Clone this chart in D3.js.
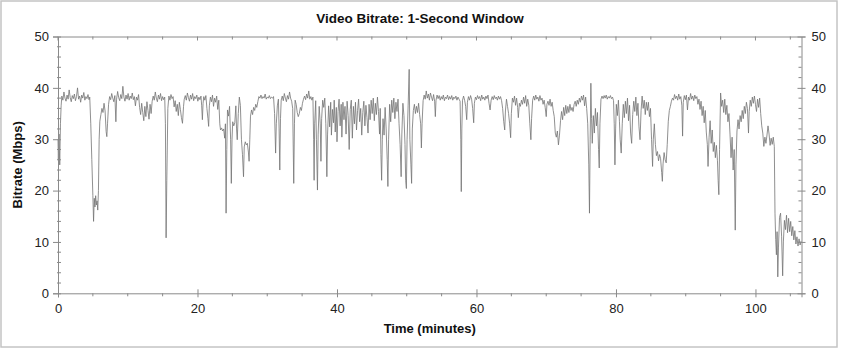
<!DOCTYPE html>
<html><head><meta charset="utf-8">
<script src="https://cdn.jsdelivr.net/npm/d3@7"></script>
<style>
html,body{margin:0;padding:0;background:#fff;}
svg text{font-family:"Liberation Sans",Arial,sans-serif;}
</style></head>
<body>
<svg id="chart" width="841" height="350"></svg>
<script>
const chartTitle = "Video Bitrate: 1-Second Window";
const xLabel = "Time (minutes)";
const yLabel = "Bitrate (Mbps)";
const xMajorTicks = [0, 20, 40, 60, 80, 100];
const yMajorTicks = [0, 10, 20, 30, 40, 50];
const xDomain = [0, 106.6];
const yDomain = [0, 50];

// [minute, Mbps]
const samples = [
[0,30],[0.05,26],[0.15,31],[0.25,25],[0.35,33],[0.45,36.5],[0.55,38.4],[0.7,37.6],[0.85,39.2],[1.0,38.0],[1.15,37.4],[1.3,38.6],[1.45,37.8],[1.6,39.6],[1.75,38.1],[1.9,37.3],[2.05,38.5],[2.2,37.9],[2.35,38.8],[2.5,37.5],[2.65,38.3],[2.8,40.0],[2.95,37.8],[3.1,38.4],[3.25,37.2],[3.4,38.6],[3.55,38.0],[3.7,39.1],[3.85,37.6],[4.0,38.3],[4.15,37.9],[4.3,38.7],[4.45,37.7],[4.55,38.2],
[4.7,33],[4.85,26],[5.0,19],[5.1,14],[5.2,18.5],[5.3,16.8],[5.4,19.0],[5.5,17.2],[5.6,18.0],[5.7,16.2],[5.8,20],[5.9,30],[6.0,33.5],[6.15,34.8],[6.3,36],[6.45,35.2],[6.6,37],[6.75,35.5],[6.9,31.5],[7.0,30.5],[7.1,33],[7.25,36.8],[7.4,38.3],
[7.55,37.7],[7.7,38.9],[7.85,38.0],[8.0,37.3],[8.15,38.5],[8.3,33.4],[8.4,37.8],[8.55,39.3],[8.7,38.1],[8.85,37.5],[9.0,38.7],[9.15,37.9],[9.3,40.3],[9.45,38.2],[9.6,37.4],[9.75,38.6],[9.9,37.8],[10.05,38.9],[10.2,37.6],[10.35,38.4],[10.5,37.9],[10.65,39.0],[10.8,37.7],[10.95,38.3],[11.1,36.5],[11.25,38.2],[11.4,37.6],[11.55,38.7],
[11.7,36.2],[11.85,34.8],[12.0,37.0],[12.15,35.2],[12.3,33.6],[12.45,36.4],[12.6,34.4],[12.75,37.3],[12.9,35.6],[13.05,33.9],[13.2,36.8],[13.35,35.0],[13.5,37.4],
[13.65,38.4],[13.8,37.6],[13.95,39.2],[14.1,38.0],[14.25,37.3],[14.4,38.6],[14.55,37.8],[14.7,38.9],[14.85,37.5],[15.0,38.3],[15.15,37.7],[15.3,38.2],
[15.4,33],[15.5,10.8],[15.6,22],[15.75,36],[15.9,38.4],
[16.05,37.6],[16.2,38.7],[16.35,37.9],[16.5,38.3],
[16.65,36.3],[16.8,37.5],[16.95,35.4],[17.1,36.8],[17.25,34.6],[17.4,37.2],[17.55,35.8],[17.7,34.2],[17.85,33.1],[18.0,36.4],[18.1,37.8],
[18.25,38.5],[18.4,37.6],[18.55,39.0],[18.7,38.1],[18.85,37.4],[19.0,38.6],[19.15,37.8],[19.3,38.9],[19.45,37.5],[19.6,38.3],[19.75,37.9],[19.9,38.6],[20.05,37.4],[20.2,38.2],[20.35,37.7],[20.5,38.4],[20.6,36.5],[20.7,33.8],[20.8,37.0],[20.9,38.3],
[21.05,37.6],[21.2,38.5],[21.35,36.0],[21.5,34.0],[21.6,32.5],[21.7,36.5],[21.85,38.2],[22.0,37.3],[22.15,38.6],[22.3,36.4],[22.45,38.0],[22.6,37.2],[22.75,38.4],[22.9,35.8],[23.05,37.6],[23.2,33],[23.3,31.8],[23.45,32.2],[23.6,31.6],[23.75,32.0],[23.9,30.2],[24.0,33],[24.1,15.6],[24.2,28],[24.3,35.7],[24.45,34.5],[24.6,36.4],[24.75,30],[24.85,21.4],[24.95,30],[25.05,33.4],[25.2,32.6],[25.35,33.2],[25.5,36.5],[25.6,32.0],[25.7,29.9],[25.85,35],[26.0,38.2],[26.15,36.6],[26.3,30],[26.45,27],[26.6,22.7],[26.7,28.5],[26.85,29.5],[27.0,28.9],[27.15,29.2],[27.3,27.5],[27.4,25.7],[27.5,30],[27.6,34.5],[27.75,35.7],[27.9,34.8],[28.05,36.2],[28.2,35.6],[28.35,36.8],[28.5,36.2],[28.65,37.3],[28.8,38.3],
[28.95,38.0],[29.1,38.6],[29.25,37.9],[29.4,38.3],[29.55,38.0],[29.7,38.8],[29.85,37.8],[30.0,38.2],[30.15,38.0],[30.3,38.5],[30.45,37.9],[30.6,38.2],[30.75,38.0],[30.9,38.3],
[31.05,35],[31.2,27.3],[31.3,33],[31.45,36.5],[31.6,37.8],[31.7,32],[31.8,24.0],[31.9,34],[32.0,37.6],[32.15,38.4],[32.3,37.5],[32.45,38.9],[32.6,38.0],[32.75,37.3],[32.9,38.5],[33.05,37.8],[33.2,39.2],[33.35,38.0],[33.5,37.4],[33.65,36],[33.8,21.4],[33.9,33],[34.0,37.6],[34.15,36.8],[34.3,35.2],[34.45,34.4],[34.6,35.0],[34.75,36.2],[34.9,35.6],[35.05,37.0],[35.2,37.8],
[35.35,38.4],[35.5,37.7],[35.65,38.8],[35.8,38.0],[35.95,39.4],[36.1,37.8],[36.25,38.3],[36.4,37.6],[36.55,38.2],[36.65,30],[36.72,22.0],[36.8,33],[36.95,37.5],[37.05,30],[37.2,20.1],[37.3,31],[37.45,36.4],[37.6,33],[37.7,25.7],[37.8,34],[37.95,37.6],[38.1,36.2],[38.25,38.0],[38.4,33],[38.55,22.7],[38.65,31],
[38.8,36.5],[38.95,32.4],[39.1,37.2],[39.2,30.8],[39.35,35.8],[39.5,33.2],[39.6,37.6],[39.75,31.4],[39.9,36.2],[40.0,29.5],[40.15,35.4],[40.3,37.8],[40.45,32.6],[40.6,36.8],[40.7,30.4],[40.85,37.2],[41.0,33.8],[41.15,36.4],[41.3,31.0],[41.45,37.4],[41.6,34.6],[41.75,28.0],[41.9,35.8],[42.05,37.6],[42.2,30.2],
[42.35,36.4],[42.5,33.0],[42.65,37.2],[42.8,31.8],[42.95,35.6],[43.1,37.8],[43.25,33.4],[43.4,36.0],[43.55,30.8],[43.7,35.2],[43.85,37.4],[44.0,32.6],[44.15,36.6],[44.3,34.2],[44.45,31.2],[44.6,36.8],[44.75,33.8],[44.9,37.6],[45.05,35.0],[45.2,38.0],[45.35,33.6],[45.5,37.0],[45.65,34.8],[45.8,38.2],[45.95,35.4],[46.1,31],[46.2,36],[46.3,27],[46.4,22.0],[46.5,30],[46.6,34.0],[46.75,30.8],[46.9,36.2],[47.05,32],[47.2,26],[47.3,20.8],[47.4,30],[47.55,36.8],[47.7,33.4],[47.85,37.6],[48.0,35.2],[48.15,38.0],[48.3,34.0],[48.45,37.2],[48.6,35.4],[48.75,37.8],[48.9,33.0],[49.05,29],[49.2,22.7],[49.3,31],[49.45,37.0],[49.6,34.6],[49.75,29],[49.85,22],[49.95,20.4],[50.05,30],[50.2,36.5],[50.35,43.6],[50.45,30],[50.6,25],[50.7,21.4],[50.8,32],[50.95,35.6],[51.1,36.8],[51.25,35.0],[51.4,36.4],[51.55,35.2],[51.7,37.0],[51.85,34.8],[52.0,33],[52.1,28.3],[52.2,33],[52.35,37.5],
[52.5,38.6],[52.65,37.8],[52.8,39.4],[52.95,38.0],[53.1,38.8],[53.25,37.6],[53.4,39.0],[53.55,38.2],[53.7,37.5],[53.85,38.7],[54.0,37.4],[54.1,34.4],[54.2,37.6],[54.35,38.6],[54.5,37.9],[54.65,38.5],[54.8,37.6],[54.95,38.3],[55.1,37.8],[55.25,38.6],[55.4,37.5],[55.55,38.2],[55.7,37.9],[55.85,38.6],[56.0,37.7],[56.15,38.3],[56.3,37.8],[56.45,38.5],[56.6,37.6],[56.75,38.2],[56.9,37.9],[57.05,38.4],[57.2,37.6],[57.35,38.2],[57.5,37.8],[57.65,37.4],[57.75,30],[57.82,19.8],[57.9,32],[58.0,37.6],[58.15,38.4],[58.3,37.6],[58.45,36.4],[58.6,33.8],[58.7,37.2],[58.85,38.3],[59.0,37.6],[59.15,38.5],[59.3,37.8],[59.45,36.0],[59.6,33.2],[59.7,37.0],[59.85,38.2],[60.0,37.7],[60.15,38.5],[60.3,37.9],[60.45,38.3],[60.6,37.5],[60.75,38.6],[60.9,37.8],[61.05,38.2],[61.2,37.6],[61.35,38.4],[61.5,37.9],[61.65,38.6],[61.8,37.0],[61.95,35.7],[62.1,37.6],[62.25,38.3],[62.4,37.7],[62.55,38.5],[62.7,37.9],[62.85,38.2],[63.0,37.6],[63.15,38.4],[63.3,37.8],
[63.45,38.3],[63.6,37.5],[63.75,36.0],[63.9,33.5],[64.05,31.8],[64.15,35.5],[64.3,37.8],[64.45,36.4],[64.6,35.0],[64.75,33],[64.9,30.3],[65.0,35],[65.15,38.0],[65.3,37.2],[65.45,38.4],[65.6,36.6],[65.75,38.0],[65.9,36.2],[66.0,34.2],[66.15,37.0],[66.3,36.4],[66.45,37.6],[66.6,36.8],[66.75,38.2],[66.9,37.0],[67.05,38.5],[67.2,36.4],[67.35,37.8],[67.5,36.6],[67.65,33],[67.8,29.9],[67.9,34],[68.05,37.6],[68.2,38.4],[68.35,37.6],[68.5,38.6],[68.65,37.8],[68.8,38.2],[68.95,37.4],[69.1,38.5],[69.25,37.6],[69.4,38.0],[69.55,36.8],[69.7,37.6],[69.85,36.2],[70.0,34.4],[70.1,36.8],[70.25,37.4],[70.4,36.6],[70.55,37.8],[70.7,36.4],[70.85,37.2],[71.0,35.6],[71.15,34.4],[71.3,31.2],[71.45,30.4],[71.6,31.6],[71.75,28.9],[71.9,30.8],[72.05,33.6],[72.2,35.4],[72.35,33.8],[72.5,36.2],[72.65,34.6],[72.8,36.6],[72.95,35.0],[73.1,36.4],[73.25,35.2],[73.4,36.8],[73.55,35.6],[73.7,36.2],[73.85,35.4],[74.0,36.8],[74.15,37.4],[74.3,36.4],[74.45,37.6],[74.6,36.8],[74.75,38.0],[74.9,37.2],[75.05,38.4],[75.2,37.6],[75.35,38.6],[75.5,36.5],[75.65,38.2],[75.8,36.0],[75.95,33],[76.1,25],[76.2,15.6],[76.3,30],[76.4,40.9],[76.5,34],[76.6,29.2],[76.75,34.6],[76.9,31.2],[77.05,36.0],[77.2,32.6],[77.35,35.2],[77.5,28],[77.6,24.4],[77.7,33],[77.85,37.8],
[78.0,38.4],[78.15,37.9],[78.3,38.5],[78.45,38.0],[78.6,38.6],[78.75,37.8],[78.9,38.3],[79.05,38.0],[79.2,38.5],[79.35,37.9],[79.5,38.2],[79.65,37.5],[79.75,33],[79.85,25.0],[79.95,32],[80.05,36.8],[80.2,34.6],[80.35,37.6],[80.5,33.4],[80.6,30],[80.75,27.3],[80.9,33.0],[81.05,36.8],[81.2,34.2],[81.35,37.4],[81.5,35.0],[81.65,38.0],[81.8,33.6],[81.95,36.6],[82.1,31.2],[82.25,29.2],[82.4,34.8],[82.55,37.4],[82.7,35.4],[82.85,38.2],[83.0,34.6],[83.15,37.0],[83.3,32.4],[83.45,29.9],[83.6,35.6],[83.75,38.4],[83.9,36.0],[84.05,37.6],[84.2,34.8],[84.35,37.2],[84.5,35.6],
[84.65,37.2],[84.8,34.4],[84.95,36.0],[85.1,30],[85.25,24.7],[85.35,30],[85.5,33.0],[85.65,29],[85.8,26.8],[85.95,27.6],[86.1,25.8],[86.25,27.0],[86.4,26.2],[86.55,23.5],[86.65,21.8],[86.75,25.2],[86.9,27.4],[87.05,26.0],[87.2,25.4],[87.35,29],[87.5,33.5],[87.65,35.6],[87.8,36.4],[87.95,37.4],[88.1,38.0],
[88.25,37.6],[88.4,38.7],[88.55,37.9],[88.7,38.4],[88.85,37.6],[89.0,38.8],[89.15,37.8],[89.3,38.3],[89.45,36.5],[89.55,30.6],[89.65,37.2],[89.8,38.5],[89.95,37.7],[90.1,38.6],[90.25,35.7],[90.4,38.2],[90.55,37.6],[90.7,38.9],[90.85,37.8],[91.0,38.4],[91.15,37.5],[91.3,38.6],[91.45,37.9],[91.6,38.3],[91.75,36.8],[91.9,37.8],[92.05,35.8],[92.2,37.4],[92.35,34.6],[92.5,36.4],
[92.65,33.2],[92.8,35.6],[92.95,31.4],[93.1,29],[93.2,24.7],[93.35,30.4],[93.5,33.6],[93.65,29.2],[93.8,31.8],[93.95,27.6],[94.1,29.4],[94.25,26.4],[94.4,28.8],[94.55,25.8],[94.65,22],[94.75,19.2],[94.85,28],[95.0,39.0],[95.15,36.4],[95.3,37.6],[95.45,35.2],[95.6,37.8],[95.75,34.8],[95.9,36.6],[96.05,33.4],[96.2,35.0],[96.35,31],[96.5,26.4],[96.65,30.4],[96.8,24.0],[96.95,28],[97.1,12.3],[97.2,25],[97.35,31.6],[97.5,33.8],[97.65,32.0],[97.8,34.6],[97.95,33.4],[98.1,35.6],[98.25,34.0],[98.4,36.4],[98.55,35.0],[98.7,37.2],[98.85,36.0],[99.0,31.2],[99.1,35.4],[99.25,37.6],[99.4,36.4],[99.55,38.2],[99.7,37.0],[99.85,38.4],[100.0,36.8],[100.15,35.4],[100.3,37.8],[100.45,36.2],[100.6,38.0],[100.75,35.0],[100.9,32.6],[101.05,31.2],[101.2,28.6],[101.35,30.4],[101.5,29.2],[101.65,30.8],[101.8,32.6],[101.95,31.0],[102.1,28.8],[102.25,30.2],[102.4,29.0],[102.55,30.4],[102.7,28.6],
[102.8,15.6],[102.9,10.5],[103.0,7.5],[103.1,12],[103.2,3.2],[103.3,9],[103.45,14.8],[103.6,15.6],[103.75,11],[103.9,3.4],[104.0,10],[104.15,14.2],[104.3,12.4],[104.45,15.2],[104.6,11.8],[104.75,14.6],[104.9,12.0],[105.05,14.0],[105.2,11.2],[105.35,13.0],[105.5,10.4],[105.65,12.2],[105.8,9.6],[105.95,11.0],[106.1,9.2],[106.25,10.6],[106.4,9.4],[106.55,10.2]
];

const W = 841, H = 350;
const m = {left: 58, right: W - 801.5, top: 36.5, bottom: H - 293.3};
const svg = d3.select("#chart");

svg.append("rect").attr("x", 1).attr("y", 1).attr("width", 836).attr("height", 346)
  .attr("fill", "#fff").attr("stroke", "#c4c4c4").attr("stroke-width", 1.5);

const x = d3.scaleLinear().domain(xDomain).range([m.left, W - m.right]);
const y = d3.scaleLinear().domain(yDomain).range([H - m.bottom, m.top]);

const axisColor = "#8a8a8a";
const xMinor = d3.range(0, xDomain[1], 5).filter(v => !xMajorTicks.includes(v));
const yMinor = d3.range(0, 50, 2).filter(v => !yMajorTicks.includes(v));

// data line
const line = d3.line().x(d => x(d[0])).y(d => y(d[1]));
svg.append("path").datum(samples).attr("d", line)
  .attr("fill", "none").attr("stroke", "#747474").attr("stroke-width", 0.8)
  .attr("stroke-linejoin", "round");

function styleAxis(g) {
  g.select(".domain").attr("stroke", axisColor);
  g.selectAll(".tick line").attr("stroke", axisColor);
  g.selectAll(".tick text").attr("fill", "#222").attr("font-size", 13)
    .attr("font-family", "\"Liberation Sans\", Arial, sans-serif");
}

// bottom axis
const gB = svg.append("g").attr("transform", `translate(0,${y(0)})`)
  .call(d3.axisBottom(x).tickValues(xMajorTicks).tickSize(4).tickPadding(6).tickFormat(d3.format("d")));
gB.selectAll(".tick line").attr("y1", -4);
styleAxis(gB);
gB.selectAll(".minor").data(xMinor).join("line").attr("class", "minor")
  .attr("x1", d => x(d)).attr("x2", d => x(d)).attr("y1", 0).attr("y2", 3).attr("stroke", axisColor);

// top axis
const gT = svg.append("g").attr("transform", `translate(0,${y(50)})`)
  .call(d3.axisTop(x).tickValues(xMajorTicks).tickSize(0).tickFormat(""));
styleAxis(gT);
gT.selectAll(".tk").data(xMinor.concat(xMajorTicks)).join("line").attr("class", "tk")
  .attr("x1", d => x(d)).attr("x2", d => x(d)).attr("y1", 0)
  .attr("y2", d => xMajorTicks.includes(d) ? 4 : 3).attr("stroke", axisColor);

// left axis
const gL = svg.append("g").attr("transform", `translate(${x(0)},0)`)
  .call(d3.axisLeft(y).tickValues(yMajorTicks).tickSize(5).tickPadding(4).tickFormat(d3.format("d")));
gL.selectAll(".tick line").attr("x1", 3);
styleAxis(gL);
gL.selectAll(".minor").data(yMinor).join("line").attr("class", "minor")
  .attr("y1", d => y(d)).attr("y2", d => y(d)).attr("x1", -1).attr("x2", 3).attr("stroke", axisColor);

// right axis
const gR = svg.append("g").attr("transform", `translate(${x(xDomain[1])},0)`)
  .call(d3.axisRight(y).tickValues(yMajorTicks).tickSize(4).tickPadding(6).tickFormat(d3.format("d")));
gR.selectAll(".tick line").attr("x1", -4);
styleAxis(gR);
gR.selectAll(".minor").data(yMinor).join("line").attr("class", "minor")
  .attr("y1", d => y(d)).attr("y2", d => y(d)).attr("x1", -3).attr("x2", 0).attr("stroke", axisColor);

// titles
svg.append("text").attr("x", 420).attr("y", 23).attr("text-anchor", "middle")
  .attr("font-size", 13.5).attr("font-weight", "bold").attr("fill", "#111").text(chartTitle);
svg.append("text").attr("x", (x(0) + x(xDomain[1])) / 2).attr("y", 333).attr("text-anchor", "middle")
  .attr("font-size", 13).attr("font-weight", "bold").attr("fill", "#111").text(xLabel);
svg.append("text").attr("transform", `translate(22,${(y(0) + y(50)) / 2}) rotate(-90)`)
  .attr("text-anchor", "middle").attr("font-size", 13).attr("font-weight", "bold").attr("fill", "#111").text(yLabel);
</script>
</body></html>
